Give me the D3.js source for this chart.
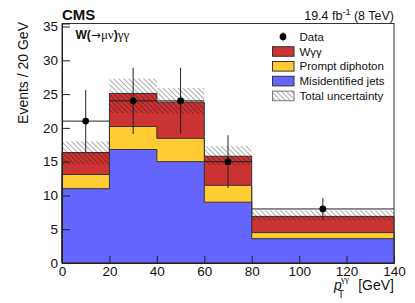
<!DOCTYPE html>
<html>
<head>
<meta charset="utf-8">
<script src="https://cdn.jsdelivr.net/npm/d3@7"></script>
<style>
  body { margin: 0; background: #fff; }
  svg { font-family: "Liberation Sans", Arial, sans-serif; }
</style>
</head>
<body>
<svg id="chart" width="415" height="303"></svg>
<script>
// bins (GeV) and stacked components, events / 20 GeV
var binEdges = [0, 20, 40, 60, 80, 140];
var misidJets = [11.0, 16.8, 15.0, 9.0, 3.6];
var promptDiphoton = [2.1, 3.4, 3.45, 2.5, 0.9];
var wgg = [3.25, 4.9, 5.35, 4.3, 2.4];
var uncLow = [14.6, 22.2, 22.1, 14.5, 6.3];
var uncHigh = [18.0, 27.3, 25.9, 17.3, 7.8];
var dataVals = [21, 24, 24, 15, 8];
var dataErr = [4.6, 4.9, 4.9, 3.9, 1.6];
var xTicks = [0, 20, 40, 60, 80, 100, 120, 140];
var yTicks = [0, 5, 10, 15, 20, 25, 30, 35];
var legendItems = ["Data", "W\u03b3\u03b3", "Prompt diphoton", "Misidentified jets", "Total uncertainty"];

var svg = d3.select("#chart");
var pLeft = 62, pRight = 394, pTop = 23.5, pBottom = 263;

var x = d3.scaleLinear().domain([0, 140]).range([pLeft, pRight]);
var y = d3.scaleLinear().domain([0, 35.45]).range([pBottom, pTop]);

var colors = { wgg: "#cc3333", prompt: "#ffcc33", misid: "#6464ff" };

// hatch pattern
var defs = svg.append("defs");
var pat = defs.append("pattern")
  .attr("id", "hatch")
  .attr("patternUnits", "userSpaceOnUse")
  .attr("width", 5).attr("height", 5);
pat.append("path")
  .attr("d", "M0,0 L5,5 M-1,4 L1,6 M4,-1 L6,1")
  .attr("stroke", "#000").attr("stroke-opacity", 0.3)
  .attr("stroke-width", 1.1);

// cumulative sums
var cumMisid = misidJets.slice();
var cumPrompt = misidJets.map(function(d, i) { return d + promptDiphoton[i]; });
var cumTotal = cumPrompt.map(function(d, i) { return d + wgg[i]; });

function stepPath(vals) {
  var p = "M" + x(binEdges[0]) + "," + y(0);
  vals.forEach(function(v, i) {
    p += "L" + x(binEdges[i]) + "," + y(v) + "L" + x(binEdges[i + 1]) + "," + y(v);
  });
  p += "L" + x(binEdges[binEdges.length - 1]) + "," + y(0) + "Z";
  return p;
}

var layers = [
  { vals: cumTotal, color: colors.wgg },
  { vals: cumPrompt, color: colors.prompt },
  { vals: cumMisid, color: colors.misid }
];
svg.selectAll(".layer")
  .data(layers)
  .enter()
  .append("path")
  .attr("class", "layer")
  .attr("d", function(d) { return stepPath(d.vals); })
  .attr("fill", function(d) { return d.color; })
  .attr("stroke", "#333")
  .attr("stroke-width", 1);

// uncertainty band
svg.selectAll(".unc")
  .data(uncLow)
  .enter()
  .append("rect")
  .attr("class", "unc")
  .attr("x", function(d, i) { return x(binEdges[i]); })
  .attr("width", function(d, i) { return x(binEdges[i + 1]) - x(binEdges[i]); })
  .attr("y", function(d, i) { return y(uncHigh[i]); })
  .attr("height", function(d, i) { return y(d) - y(uncHigh[i]); })
  .attr("fill", "url(#hatch)");

// data points
var pts = svg.append("g");
dataVals.forEach(function(v, i) {
  var xc = x((binEdges[i] + binEdges[i + 1]) / 2);
  pts.append("line")
    .attr("x1", x(binEdges[i])).attr("x2", x(binEdges[i + 1]))
    .attr("y1", y(v)).attr("y2", y(v))
    .attr("stroke", "#222").attr("stroke-width", 1);
  pts.append("line")
    .attr("x1", xc).attr("x2", xc)
    .attr("y1", y(v - dataErr[i])).attr("y2", y(v + dataErr[i]))
    .attr("stroke", "#222").attr("stroke-width", 1);
  pts.append("circle")
    .attr("cx", xc).attr("cy", y(v)).attr("r", 3.4)
    .attr("fill", "#000");
});

// frame
svg.append("rect")
  .attr("x", pLeft).attr("y", pTop)
  .attr("width", pRight - pLeft).attr("height", pBottom - pTop)
  .attr("fill", "none").attr("stroke", "#333").attr("stroke-width", 1);

// axes
var yAxis = d3.axisLeft(y).tickValues(yTicks).tickSize(-8).tickPadding(4);
var gy = svg.append("g").attr("transform", "translate(" + pLeft + ",0)").call(yAxis);
var xAxis = d3.axisBottom(x).tickValues(xTicks).tickSize(-7).tickPadding(3);
var gx = svg.append("g").attr("transform", "translate(0," + pBottom + ")").call(xAxis);
[gx, gy].forEach(function(g) {
  g.select(".domain").attr("stroke", "#222");
  g.selectAll(".tick line").attr("stroke", "#222");
  g.selectAll(".tick text")
    .attr("font-family", "Liberation Sans, Arial, sans-serif")
    .attr("font-size", 13.5).attr("fill", "#111");
});

// titles
svg.append("text")
  .attr("transform", "translate(28,22) rotate(-90)")
  .attr("text-anchor", "end")
  .attr("font-size", 14).attr("fill", "#111")
  .text("Events / 20 GeV");

svg.append("text")
  .attr("x", pRight).attr("y", 290)
  .attr("text-anchor", "end")
  .attr("font-size", 14).attr("fill", "#111")
  .text("[GeV]");
svg.append("text")
  .attr("x", 334).attr("y", 290)
  .attr("font-size", 14).attr("font-style", "italic").attr("fill", "#111")
  .text("p");
svg.append("text")
  .attr("x", 338).attr("y", 298)
  .attr("font-size", 10).attr("fill", "#111")
  .text("T");
svg.append("text")
  .attr("x", 341).attr("y", 281.5)
  .attr("font-size", 9).attr("font-family", "Liberation Serif, serif").attr("fill", "#111")
  .text("\u03b3\u03b3");

svg.append("text")
  .attr("x", 62).attr("y", 20)
  .attr("font-size", 15).attr("font-weight", "bold").attr("fill", "#111")
  .text("CMS");

var lumi = svg.append("text")
  .attr("x", pRight).attr("y", 20)
  .attr("text-anchor", "end")
  .attr("font-size", 12.5).attr("fill", "#111");
lumi.append("tspan").text("19.4 fb");
lumi.append("tspan").attr("font-size", 9).attr("dy", -5).text("-1");
lumi.append("tspan").attr("dy", 5).text(" (8 TeV)");

var chan = svg.append("text")
  .attr("x", 75.5).attr("y", 39)
  .attr("font-size", 12).attr("fill", "#111");
chan.append("tspan").attr("font-weight", "bold").text("W(");
chan.append("tspan").attr("font-family", "DejaVu Sans, sans-serif").attr("font-size", 12).text("\u2192");
chan.append("tspan").attr("font-family", "Liberation Serif, serif").attr("font-size", 13).text("\u03bc\u03bd");
chan.append("tspan").attr("font-weight", "bold").text(")");
chan.append("tspan").attr("font-family", "Liberation Serif, serif").attr("font-size", 13).text("\u03b3\u03b3");

// legend
var lg = svg.append("g");
var rowY = function(i) { return 36.7 + i * 14.8; };
lg.selectAll(".ltext")
  .data(legendItems)
  .enter()
  .append("text")
  .attr("class", "ltext")
  .attr("x", 299.5)
  .attr("y", function(d, i) { return rowY(i) + 4.1; })
  .attr("font-size", 11.5).attr("fill", "#111")
  .text(function(d) { return d; });
lg.append("line")
  .attr("x1", 283).attr("x2", 283)
  .attr("y1", rowY(0) - 4.5).attr("y2", rowY(0) + 4.5)
  .attr("stroke", "#222");
lg.append("circle").attr("cx", 283).attr("cy", rowY(0)).attr("r", 3.4).attr("fill", "#000");
var swatchFill = [colors.wgg, colors.prompt, colors.misid, "url(#hatch)"];
lg.selectAll(".sw")
  .data(swatchFill)
  .enter()
  .append("rect")
  .attr("class", "sw")
  .attr("x", 272.5).attr("width", 21.5)
  .attr("y", function(d, i) { return rowY(i + 1) - 4.8; })
  .attr("height", 9.6)
  .attr("fill", function(d) { return d; })
  .attr("stroke", function(d, i) { return i == 3 ? "#777" : "#333"; })
  .attr("stroke-width", 1);
</script>
</body>
</html>
